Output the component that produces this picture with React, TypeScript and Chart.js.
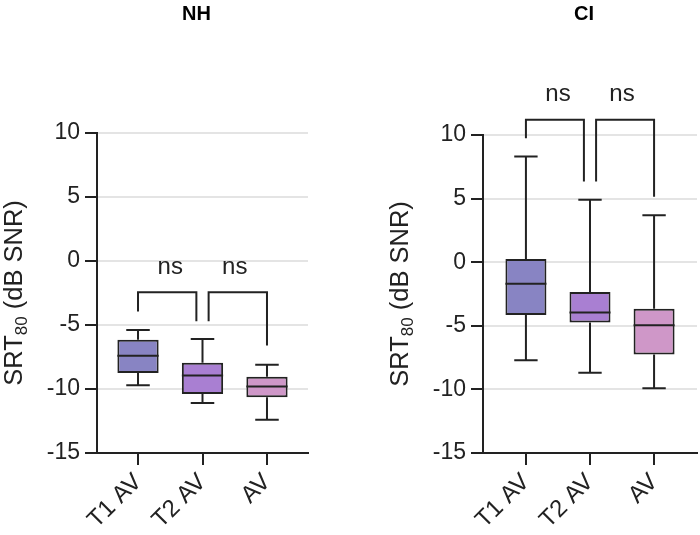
import React, { useEffect, useRef } from 'react';
import { Chart, registerables } from 'chart.js';

Chart.register(...registerables);

const categories = ['T1 AV', 'T2 AV', 'AV'];
const boxColors = ['#8884c3', '#a97fd2', '#cf97c8'];

// NH panel (dB SNR)
const nhMin = [-9.7, -11.1, -12.4];
const nhQ1 = [-8.75, -10.4, -10.65];
const nhMedian = [-7.4, -8.95, -9.8];
const nhQ3 = [-6.15, -7.95, -9.05];
const nhMax = [-5.4, -6.1, -8.1];
const nhBracketTop = [-2.45, -2.45];
const nhBracketLeftEnd = [-3.95, -4.7];
const nhBracketRightEnd = [-4.7, -6.6];

// CI panel (dB SNR)
const ciMin = [-7.7, -8.7, -9.9];
const ciQ1 = [-4.15, -4.75, -7.25];
const ciMedian = [-1.7, -3.95, -4.95];
const ciQ3 = [0.25, -2.35, -3.65];
const ciMax = [8.3, 4.9, 3.7];
const ciBracketTop = [11.2, 11.2];
const ciBracketLeftEnd = [9.75, 6.35];
const ciBracketRightEnd = [6.35, 5.15];

const bracketPairs = [[0, 1], [1, 2]];
const bracketLabels = ['ns', 'ns'];

const yMin = -15;
const yMax = 10;
const yStep = 5;

const FONT = "'Liberation Sans', Arial, Helvetica, sans-serif";
const INK = '#222222';

interface Panel {
  title: string;
  min: number[];
  q1: number[];
  median: number[];
  q3: number[];
  max: number[];
  bTop: number[];
  bLeft: number[];
  bRight: number[];
  axisWidth: number;
  padTop: number;
  padRight: number;
  xPad: number;
}

const panels: Panel[] = [
  {
    title: 'NH', min: nhMin, q1: nhQ1, median: nhMedian, q3: nhQ3, max: nhMax,
    bTop: nhBracketTop, bLeft: nhBracketLeftEnd, bRight: nhBracketRightEnd,
    axisWidth: 97, padTop: 133, padRight: 42, xPad: 0.636,
  },
  {
    title: 'CI', min: ciMin, q1: ciQ1, median: ciMedian, q3: ciQ3, max: ciMax,
    bTop: ciBracketTop, bLeft: ciBracketLeftEnd, bRight: ciBracketRightEnd,
    axisWidth: 133, padTop: 135, padRight: 3, xPad: 0.67,
  },
];

function makePlugin(p: Panel) {
  return {
    id: 'boxExtras',
    afterDatasetsDraw(chart: any) {
      const { ctx } = chart;
      const x = chart.scales.x;
      const y = chart.scales.y;
      const meta = chart.getDatasetMeta(0);
      ctx.save();
      ctx.strokeStyle = INK;
      ctx.lineWidth = 2;
      ctx.lineCap = 'butt';
      meta.data.forEach((bar: any, i: number) => {
        const cx = x.getPixelForValue(i);
        const w = bar.width;
        const cap = w * 0.57;
        const pMin = y.getPixelForValue(p.min[i]);
        const pQ1 = y.getPixelForValue(p.q1[i]);
        const pMed = y.getPixelForValue(p.median[i]);
        const pQ3 = y.getPixelForValue(p.q3[i]);
        const pMax = y.getPixelForValue(p.max[i]);
        ctx.beginPath();
        ctx.moveTo(cx, pQ3);
        ctx.lineTo(cx, pMax);
        ctx.moveTo(cx - cap / 2, pMax);
        ctx.lineTo(cx + cap / 2, pMax);
        ctx.moveTo(cx, pQ1);
        ctx.lineTo(cx, pMin);
        ctx.moveTo(cx - cap / 2, pMin);
        ctx.lineTo(cx + cap / 2, pMin);
        ctx.moveTo(cx - w / 2, pMed);
        ctx.lineTo(cx + w / 2, pMed);
        ctx.stroke();
      });
      ctx.restore();
    },
    afterDraw(chart: any) {
      const { ctx, chartArea } = chart;
      const x = chart.scales.x;
      const y = chart.scales.y;
      ctx.save();
      // significance brackets
      ctx.strokeStyle = INK;
      ctx.lineWidth = 2;
      const gap = 0.095;
      bracketPairs.forEach(([a, b], k) => {
        const xa = x.getPixelForValue(a + (a > 0 ? gap : 0));
        const xb = x.getPixelForValue(b - (b < categories.length - 1 ? gap : 0));
        const yt = y.getPixelForValue(p.bTop[k]);
        ctx.beginPath();
        ctx.moveTo(xa, y.getPixelForValue(p.bLeft[k]));
        ctx.lineTo(xa, yt);
        ctx.lineTo(xb, yt);
        ctx.lineTo(xb, y.getPixelForValue(p.bRight[k]));
        ctx.stroke();
        ctx.fillStyle = INK;
        ctx.font = `24px ${FONT}`;
        ctx.textAlign = 'center';
        ctx.textBaseline = 'middle';
        ctx.fillText(bracketLabels[k], x.getPixelForValue((a + b) / 2), yt - 25);
      });
      // panel title
      ctx.fillStyle = '#000';
      ctx.font = `bold 20px ${FONT}`;
      ctx.textAlign = 'center';
      ctx.textBaseline = 'middle';
      ctx.fillText(p.title, (chartArea.left + chartArea.right) / 2 - 6, 14);
      // y-axis title with subscript
      const cx = chartArea.left - 82;
      const cy = (chartArea.top + chartArea.bottom) / 2;
      const mainFont = `25.5px ${FONT}`;
      const subFont = `17px ${FONT}`;
      ctx.font = mainFont;
      const w1 = ctx.measureText('SRT').width;
      const w3 = ctx.measureText(' (dB SNR)').width;
      ctx.font = subFont;
      const w2 = ctx.measureText('80').width;
      const total = w1 + w2 + w3;
      ctx.translate(cx, cy);
      ctx.rotate(-Math.PI / 2);
      ctx.textAlign = 'left';
      ctx.textBaseline = 'middle';
      let sx = -total / 2;
      ctx.fillStyle = INK;
      ctx.font = mainFont;
      ctx.fillText('SRT', sx, 0);
      sx += w1;
      ctx.font = subFont;
      ctx.fillText('80', sx, 7);
      sx += w2;
      ctx.font = mainFont;
      ctx.fillText(' (dB SNR)', sx, 0);
      ctx.restore();
    },
  };
}

function BoxPanel({ p }: { p: Panel }) {
  const ref = useRef<HTMLCanvasElement | null>(null);
  useEffect(() => {
    if (!ref.current) return;
    const chart = new Chart(ref.current, {
      type: 'bar',
      data: {
        datasets: [
          {
            data: categories.map((_, i) => ({ x: i, y: [p.q1[i], p.q3[i]] })) as any,
            backgroundColor: boxColors,
            borderColor: INK,
            borderWidth: 2,
            borderSkipped: false,
            barPercentage: 0.64,
            categoryPercentage: 1,
          },
        ],
      },
      options: {
        responsive: false,
        animation: false,
        layout: { padding: { top: p.padTop, right: p.padRight, left: 0, bottom: 0 } },
        plugins: { legend: { display: false }, tooltip: { enabled: false }, title: { display: false } },
        scales: {
          x: {
            type: 'linear',
            min: -p.xPad,
            max: categories.length - 1 + p.xPad,
            offset: false,
            afterBuildTicks: (s: any) => {
              s.ticks = categories.map((_, i) => ({ value: i }));
            },
            afterFit: (s: any) => {
              s.height = 82;
            },
            ticks: {
              autoSkip: false,
              minRotation: 45,
              maxRotation: 45,
              padding: 3,
              color: INK,
              font: { family: FONT, size: 24 },
              callback: (v: any) => categories[Math.round(Number(v))] ?? '',
            },
            grid: {
              display: true,
              drawOnChartArea: false,
              drawTicks: true,
              offset: false,
              tickLength: 12,
              tickColor: INK,
              tickWidth: 2,
              color: INK,
              lineWidth: 2,
            },
            border: { display: true, color: INK, width: 2 },
          },
          y: {
            type: 'linear',
            min: yMin,
            max: yMax,
            afterFit: (s: any) => {
              s.width = p.axisWidth;
            },
            ticks: {
              stepSize: yStep,
              padding: 5,
              color: INK,
              font: { family: FONT, size: 23 },
            },
            grid: {
              color: '#e4e4e4',
              lineWidth: 2,
              drawTicks: true,
              tickLength: 12,
              tickColor: INK,
              tickWidth: 2,
            },
            border: { display: true, color: INK, width: 2 },
          },
        },
      } as any,
      plugins: [makePlugin(p)],
    });
    return () => chart.destroy();
  }, [p]);
  return <canvas ref={ref} width={350} height={535} style={{ display: 'block' }} />;
}

export default function App() {
  return (
    <div
      style={{
        position: 'absolute',
        left: 0,
        top: 0,
        width: 700,
        height: 535,
        display: 'flex',
        background: '#fff',
      }}
    >
      {panels.map((p) => (
        <BoxPanel key={p.title} p={p} />
      ))}
    </div>
  );
}
